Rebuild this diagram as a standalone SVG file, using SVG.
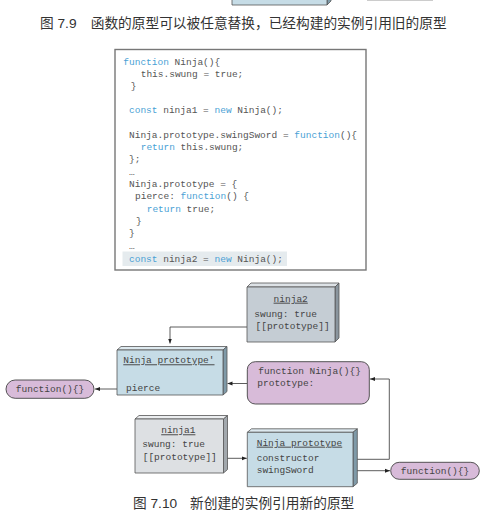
<svg xmlns="http://www.w3.org/2000/svg" width="500" height="523" viewBox="0 0 500 523">
<defs>
<style>
.cap{font-family:"Liberation Sans","Noto Sans CJK SC",sans-serif;font-size:13.7px;fill:#333}
.code{font-family:"Liberation Mono",monospace;font-size:9.5px;fill:#555;white-space:pre}
.kw{fill:#4a9fd5}
.lbl{font-family:"Liberation Mono",monospace;font-size:9.5px;fill:#444;white-space:pre}
.ul{text-decoration:underline}
.edge{stroke:#555;stroke-width:0.8;stroke-linejoin:round}
.conn{fill:none;stroke:#333;stroke-width:0.8}
.pfront{fill:#c6dce6}.pside{fill:#7f9aa8}.ptop{fill:#dde9ef}
.n2front{fill:#c5cdd4}.n2side{fill:#8a959e}.n2top{fill:#dde2e6}
.n1front{fill:#dde0e3}.n1side{fill:#a2a8ad}.n1top{fill:#eceef0}
.pill{fill:#d8bbd9;stroke:#444;stroke-width:0.9}
</style>
<marker id="ah" viewBox="0 0 10 10" refX="10" refY="5" markerWidth="5" markerHeight="5" orient="auto" markerUnits="userSpaceOnUse">
<path d="M0,1 L10,5 L0,9 z" fill="#222"/>
</marker>
</defs>
<rect width="500" height="523" fill="#fff"/>

<g id="prev-fig">
<polygon class="edge ptop" points="232,-50 236,-54 331,-54 327,-50"/>
<polygon class="edge pside" points="327,-50 331,-54 331,1 327,5"/>
<rect class="edge pfront" x="232" y="-50" width="95" height="55"/>
<line x1="367" y1="0.5" x2="433" y2="0.5" stroke="#ccc" stroke-width="1"/>
</g>

<text class="cap" x="40" y="28">图 7.9</text>
<text class="cap" x="90.7" y="28">函数的原型可以被任意替换，已经构建的实例引用旧的原型</text>

<g id="code">
<rect x="115" y="49.5" width="251" height="220.5" fill="#fff" stroke="#777" stroke-width="1.4"/>
<rect x="122.5" y="251.5" width="164.5" height="14.5" fill="#e5ebee"/>
<text class="code" x="123.3" y="65"><tspan class="kw">function</tspan> Ninja(){</text>
<text class="code" x="140.7" y="77">this.swung = true;</text>
<text class="code" x="130.7" y="89">}</text>
<text class="code" x="129" y="113"><tspan class="kw">const</tspan> ninja1 = <tspan class="kw">new</tspan> Ninja();</text>
<text class="code" x="129" y="138">Ninja.prototype.swingSword = <tspan class="kw">function</tspan>(){</text>
<text class="code" x="140.7" y="150"><tspan class="kw">return</tspan> this.swung;</text>
<text class="code" x="129" y="162">};</text>
<text class="code" x="129" y="174.5">…</text>
<text class="code" x="129" y="187">Ninja.prototype = {</text>
<text class="code" x="135" y="199">pierce: <tspan class="kw">function</tspan>() {</text>
<text class="code" x="146.7" y="211.5"><tspan class="kw">return</tspan> true;</text>
<text class="code" x="136" y="224">}</text>
<text class="code" x="129" y="236">}</text>
<text class="code" x="129" y="248.5">…</text>
<text class="code" x="129" y="261.5"><tspan class="kw">const</tspan> ninja2 = <tspan class="kw">new</tspan> Ninja();</text>
</g>

<g id="connectors">
<polyline class="conn" points="247,327 170,327 170,343.5" marker-end="url(#ah)"/>
<line class="conn" x1="120" y1="389" x2="95" y2="389" marker-end="url(#ah)"/>
<line class="conn" x1="247" y1="383.5" x2="227.5" y2="383.5" marker-end="url(#ah)"/>
<polyline class="conn" points="324,459.3 389.3,459.3 389.3,379 370,379" marker-end="url(#ah)"/>
<line class="conn" x1="320" y1="470.7" x2="390" y2="470.7" marker-end="url(#ah)"/>
<line class="conn" x1="219.3" y1="458.3" x2="246.8" y2="458.3" marker-end="url(#ah)"/>
</g>

<g id="ninja2">
<polygon class="edge n2top" points="247,287 251,283 339,283 335,287"/>
<polygon class="edge n2side" points="335,287 339,283 339,338 335,342"/>
<rect class="edge n2front" x="247" y="287" width="88" height="55"/>
<text class="lbl ul" x="290.7" y="301.7" text-anchor="middle">ninja2</text>
<text class="lbl" x="254.3" y="316.7">swung: true</text>
<text class="lbl" x="255.5" y="329">[[prototype]]</text>
</g>

<g id="ninja-prototype-new">
<polygon class="edge ptop" points="117,350 121,346.5 227,346.5 223,350"/>
<polygon class="edge pside" points="223,350 227,346.5 227,391.5 223,395"/>
<rect class="edge pfront" x="117" y="350" width="106" height="45"/>
<text class="lbl ul" x="123.3" y="363.3">Ninja prototype'</text>
<text class="lbl" x="126" y="391">pierce</text>
</g>

<g id="fn-pierce">
<rect class="pill" x="6" y="380" width="88" height="18.3" rx="9.15"/>
<text class="lbl" x="50" y="392.3" text-anchor="middle">function(){}</text>
</g>

<g id="fn-ninja">
<rect class="pill" x="247.3" y="361.7" width="122" height="42.3" rx="8"/>
<text class="lbl" x="258.3" y="374">function Ninja(){}</text>
<text class="lbl" x="257.3" y="385.5">prototype:</text>
</g>

<g id="ninja1">
<polygon class="edge n1top" points="135,419 139,415.5 227.5,415.5 223.5,419"/>
<polygon class="edge n1side" points="223.5,419 227.5,415.5 227.5,469.5 223.5,473"/>
<rect class="edge n1front" x="135" y="419" width="88.5" height="54"/>
<text class="lbl ul" x="178.3" y="433.3" text-anchor="middle">ninja1</text>
<text class="lbl" x="142.3" y="447.3">swung: true</text>
<text class="lbl" x="142.7" y="460">[[prototype]]</text>
</g>

<g id="ninja-prototype-old">
<polygon class="edge ptop" points="247.3,432.3 251.5,428.8 357.3,428.8 353,432.3"/>
<polygon class="edge pside" points="353,432.3 357.3,428.8 357.3,483.2 353,486.7"/>
<rect class="edge pfront" x="247.3" y="432.3" width="105.7" height="54.4"/>
<text class="lbl ul" x="256.7" y="445.7">Ninja prototype</text>
<text class="lbl" x="256.7" y="460.7">constructor</text>
<text class="lbl" x="256.7" y="472.7">swingSword</text>
</g>

<g id="fn-swing">
<rect class="pill" x="390.7" y="462.3" width="88.6" height="17" rx="8.5"/>
<text class="lbl" x="435" y="474" text-anchor="middle">function(){}</text>
</g>

<text class="cap" x="133" y="508">图 7.10</text>
<text class="cap" x="190" y="508">新创建的实例引用新的原型</text>
</svg>
